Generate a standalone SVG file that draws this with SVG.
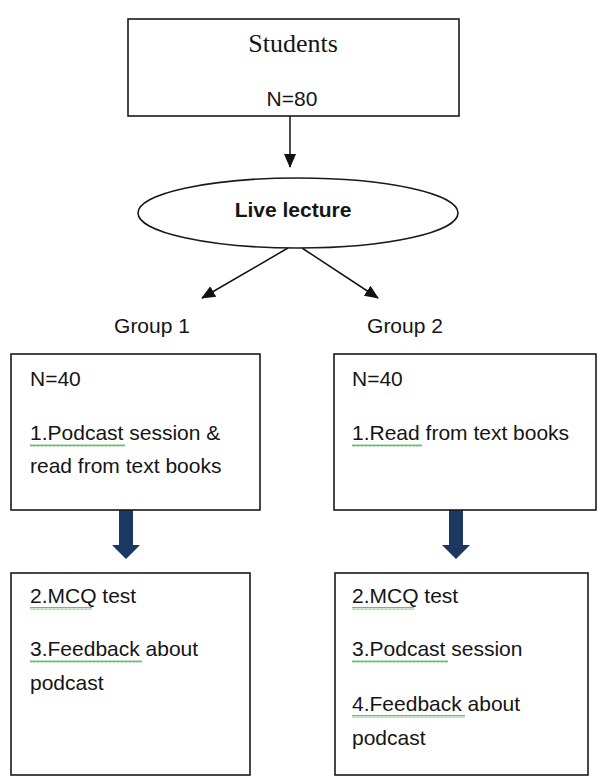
<svg xmlns="http://www.w3.org/2000/svg" width="600" height="783" viewBox="0 0 600 783">
<style>
.box{fill:#fff;stroke:#1a1a1a;stroke-width:1.6}
.t{font-family:"Liberation Sans",Arial,sans-serif;font-size:21px;fill:#151515}
.serif{font-family:"Liberation Serif","Times New Roman",serif;font-size:26px;fill:#151515}
.b{font-weight:bold}
.conn{stroke:#111;stroke-width:1.5;fill:none}
.fat{fill:#1b3860}
.sq{fill:url(#wave)}
</style>
<defs>
<marker id="ah" markerWidth="10" markerHeight="10" refX="9" refY="5" orient="auto" markerUnits="userSpaceOnUse" viewBox="0 0 10 10">
<path d="M0,0 L10,5 L0,10 z" fill="#111"/>
</marker>
<marker id="ah2" markerWidth="14" markerHeight="14" refX="13" refY="7" orient="auto" markerUnits="userSpaceOnUse" viewBox="0 0 14 14">
<path d="M0,1 L14,7 L0,13 z" fill="#111"/>
</marker>
<pattern id="wave" width="4" height="3" patternUnits="userSpaceOnUse">
<polyline points="0,2.5 1,0.5 2,2.5 3,0.5 4,2.5" fill="none" stroke="#4aa84a" stroke-width="0.8"/>
</pattern>
</defs>

<g id="connectors">
<line class="conn" x1="290" y1="116" x2="290" y2="167" marker-end="url(#ah2)"/>
<line class="conn" x1="288" y1="248" x2="202" y2="298" marker-end="url(#ah2)"/>
<line class="conn" x1="302" y1="248" x2="378" y2="298" marker-end="url(#ah2)"/>
<path class="fat" d="M119,510 H133 V545 H140 L126,559 L112,545 H119 Z"/>
<path class="fat" d="M449,510 H463 V545 H470 L456,559 L442,545 H449 Z"/>
</g>

<g id="students">
<rect class="box" x="128" y="19" width="331" height="97"/>
<text class="serif" x="293" y="52" text-anchor="middle">Students</text>
<text class="t" x="292" y="106" text-anchor="middle">N=80</text>
</g>

<g id="live-lecture">
<ellipse class="box" cx="298" cy="213" rx="160" ry="35"/>
<text class="t b" x="293" y="217" text-anchor="middle">Live lecture</text>
</g>

<g id="group1-label">
<text class="t" x="152" y="333" text-anchor="middle">Group 1</text>
</g>
<g id="group2-label">
<text class="t" x="405" y="333" text-anchor="middle">Group 2</text>
</g>

<g id="group1-box">
<rect class="box" x="11" y="354" width="249" height="156"/>
<text class="t" x="30" y="386">N=40</text>
<text class="t" x="30" y="440">1.Podcast session &amp;</text>
<rect class="sq" x="30" y="444" width="95" height="3"/>
<text class="t" x="30" y="473">read from text books</text>
</g>

<g id="group2-box">
<rect class="box" x="334" y="354" width="262" height="156"/>
<text class="t" x="352" y="386">N=40</text>
<text class="t" x="352" y="440">1.Read from text books</text>
<rect class="sq" x="352" y="444" width="70" height="3"/>
</g>

<g id="group1-results">
<rect class="box" x="11" y="573" width="239" height="202"/>
<text class="t" x="30" y="603">2.MCQ test</text>
<rect class="sq" x="30" y="607" width="62" height="3"/>
<text class="t" x="30" y="656">3.Feedback about</text>
<rect class="sq" x="30" y="660" width="112" height="3"/>
<text class="t" x="30" y="690">podcast</text>
</g>

<g id="group2-results">
<rect class="box" x="335" y="573" width="253" height="202"/>
<text class="t" x="352" y="603">2.MCQ test</text>
<rect class="sq" x="352" y="607" width="62" height="3"/>
<text class="t" x="352" y="656">3.Podcast session</text>
<rect class="sq" x="352" y="660" width="96" height="3"/>
<text class="t" x="352" y="711">4.Feedback about</text>
<rect class="sq" x="352" y="715" width="113" height="3"/>
<text class="t" x="352" y="745">podcast</text>
</g>
</svg>
